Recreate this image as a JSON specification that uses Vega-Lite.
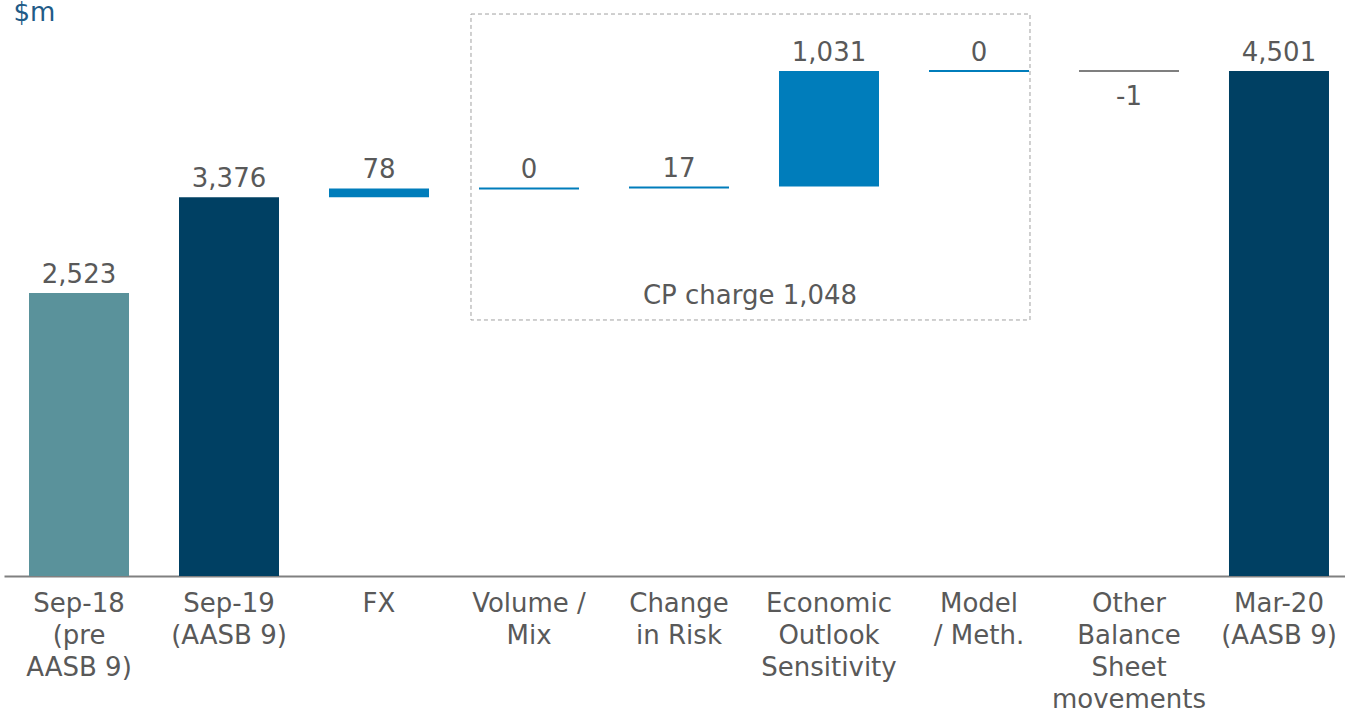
{
  "$schema": "https://vega.github.io/schema/vega-lite/v6.json",
  "autosize": "none",
  "width": 1350,
  "height": 576,
  "padding": {"left": 4, "top": 0, "right": 0, "bottom": 134},
  "config": {
    "view": {"stroke": null},
    "font": "DejaVu Sans",
    "axisY": {"labels": false, "ticks": false, "domain": false, "grid": false, "titleAngle": 0, "titleAlign": "left", "titleBaseline": "alphabetic", "titleX": 9, "titleY": 20, "titleFont": "DejaVu Sans", "titleFontSize": 26, "titleFontWeight": "normal", "titleColor": "#1f5b87"},
    "axisX": {"domainColor": "#808080", "domainWidth": 2, "ticks": false, "grid": false, "labelAngle": 0, "labelFont": "DejaVu Sans", "labelFontSize": 26, "labelColor": "#595959", "labelPadding": 14, "labelLineHeight": 32, "labelBaseline": "top"}
  },
  "datasets": {
    "steps": [
      {"cat": "Sep-18|(pre|AASB 9)", "start": 0, "end": 2523, "label": "2,523", "kind": "base"},
      {"cat": "Sep-19|(AASB 9)", "start": 0, "end": 3376, "label": "3,376", "kind": "total"},
      {"cat": "FX", "start": 3376, "end": 3454, "label": "78", "kind": "up"},
      {"cat": "Volume /|Mix", "start": 3454, "end": 3454, "label": "0", "kind": "up"},
      {"cat": "Change|in Risk", "start": 3454, "end": 3471, "label": "17", "kind": "up"},
      {"cat": "Economic|Outlook|Sensitivity", "start": 3471, "end": 4502, "label": "1,031", "kind": "up"},
      {"cat": "Model|/ Meth.", "start": 4502, "end": 4502, "label": "0", "kind": "up"},
      {"cat": "Other|Balance|Sheet|movements", "start": 4502, "end": 4501, "label": "-1", "kind": "down"},
      {"cat": "Mar-20|(AASB 9)", "start": 0, "end": 4501, "label": "4,501", "kind": "total"}
    ],
    "box": [
      {"from": "Volume /|Mix", "to": "Model|/ Meth.", "mid": "Change|in Risk", "low": 2282, "high": 5009, "textY": 2495, "label": "CP charge 1,048"}
    ]
  },
  "encoding": {
    "x": {
      "field": "cat", "type": "nominal", "title": null,
      "scale": {"domain": ["Sep-18|(pre|AASB 9)", "Sep-19|(AASB 9)", "FX", "Volume /|Mix", "Change|in Risk", "Economic|Outlook|Sensitivity", "Model|/ Meth.", "Other|Balance|Sheet|movements", "Mar-20|(AASB 9)"], "paddingInner": 0.3333, "paddingOuter": 0.1667},
      "axis": {"labelExpr": "split(datum.label, '|')"}
    }
  },
  "layer": [
    {
      "data": {"name": "steps"},
      "mark": {"type": "bar"},
      "encoding": {
        "y": {"field": "start", "type": "quantitative", "title": "$m", "scale": {"domain": [0, 5134], "nice": false, "zero": true}},
        "y2": {"field": "end"},
        "color": {"field": "kind", "type": "nominal", "legend": null, "scale": {"domain": ["base", "total", "up", "down"], "range": ["#5a929b", "#004063", "#007dbb", "#7f7f7f"]}}
      }
    },
    {
      "data": {"name": "steps"},
      "transform": [{"filter": "abs(datum.end - datum.start) < 5"}],
      "mark": {"type": "tick", "size": 100, "thickness": 2, "orient": "horizontal", "opacity": 1},
      "encoding": {
        "y": {"field": "end", "type": "quantitative", "title": "$m"},
        "color": {"field": "kind", "type": "nominal", "legend": null}
      }
    },
    {
      "data": {"name": "steps"},
      "transform": [{"filter": "datum.end >= datum.start"}],
      "mark": {"type": "text", "baseline": "alphabetic", "dy": -10, "fontSize": 26, "color": "#595959", "font": "DejaVu Sans"},
      "encoding": {
        "y": {"field": "end", "type": "quantitative", "title": "$m"},
        "text": {"field": "label"}
      }
    },
    {
      "data": {"name": "steps"},
      "transform": [{"filter": "datum.end < datum.start"}],
      "mark": {"type": "text", "baseline": "alphabetic", "dy": 34, "fontSize": 26, "color": "#595959", "font": "DejaVu Sans"},
      "encoding": {
        "y": {"field": "end", "type": "quantitative", "title": "$m"},
        "text": {"field": "label"}
      }
    },
    {
      "data": {"name": "box"},
      "mark": {"type": "rect", "fill": null, "fillOpacity": 0, "stroke": "#a0a0a0", "strokeWidth": 1, "strokeDash": [4, 3]},
      "encoding": {
        "x": {"field": "from", "type": "nominal", "bandPosition": -0.08},
        "x2": {"field": "to", "bandPosition": 1.01},
        "y": {"field": "low", "type": "quantitative", "title": "$m"},
        "y2": {"field": "high"}
      }
    },
    {
      "data": {"name": "box"},
      "mark": {"type": "text", "baseline": "middle", "fontSize": 26, "color": "#595959", "font": "DejaVu Sans"},
      "encoding": {
        "x": {"field": "mid", "type": "nominal", "bandPosition": 1.21},
        "y": {"field": "textY", "type": "quantitative", "title": "$m"},
        "text": {"field": "label"}
      }
    }
  ]
}
